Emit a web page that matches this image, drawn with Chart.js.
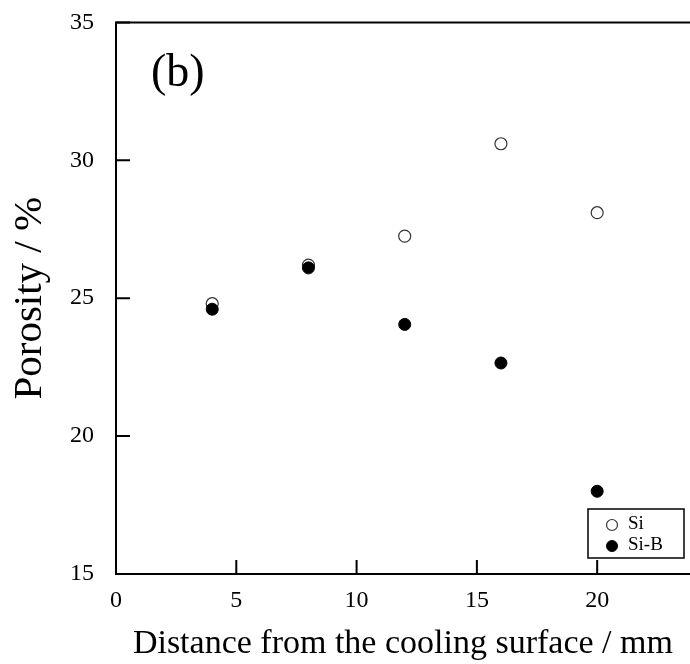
<!DOCTYPE html>
<html>
<head>
<meta charset="utf-8">
<script src="https://cdn.jsdelivr.net/npm/chart.js@4.4.1/dist/chart.umd.min.js"></script>
<style>
  html, body { margin: 0; padding: 0; background: #fff; }
  #wrap { width: 690px; height: 664px; position: relative; overflow: hidden; }
  #inner { position: absolute; left: 0; top: -6px; width: 697px; height: 670px; }
</style>
</head>
<body>
<div id="wrap"><div id="inner"><canvas id="porosityChart"></canvas></div></div>
<script>
const distances = [4, 8, 12, 16, 20];
const siValues = [24.8, 26.2, 27.25, 30.6, 28.1];
const siBValues = [24.6, 26.1, 24.05, 22.65, 18.0];
const seriesNames = ['Si', 'Si-B'];
const xTicks = [0, 5, 10, 15, 20];
const yTicks = [15, 20, 25, 30, 35];

const SERIF = "'Liberation Serif', 'Times New Roman', serif";

const toPoints = vals => distances.map((d, i) => ({ x: d, y: vals[i] }));

// axes drawn by hand: left + bottom + top line, inward ticks
const frame = {
    id: 'frame',
    afterDatasetsDraw(chart) {
        const { ctx, chartArea: a, scales } = chart;
        ctx.save();
        ctx.strokeStyle = '#000';
        ctx.lineWidth = 2;
        ctx.beginPath();
        ctx.moveTo(chart.width, a.top);
        ctx.lineTo(a.left, a.top);
        ctx.lineTo(a.left, a.bottom);
        ctx.lineTo(chart.width, a.bottom);
        ctx.stroke();

        ctx.beginPath();
        xTicks.forEach(v => {
            const px = scales.x.getPixelForValue(v);
            ctx.moveTo(px, a.bottom);
            ctx.lineTo(px, a.bottom - 14);
        });
        yTicks.forEach(v => {
            const py = scales.y.getPixelForValue(v);
            ctx.moveTo(a.left, py);
            ctx.lineTo(a.left + 14, py);
        });
        ctx.stroke();

        // panel label
        ctx.fillStyle = '#000';
        ctx.font = '46px ' + SERIF;
        ctx.textAlign = 'left';
        ctx.textBaseline = 'alphabetic';
        ctx.fillText('(b)', a.left + 35, a.top + 64);

        // legend box
        const bx = 588, by = a.bottom - 65, bw = 96, bh = 49;
        ctx.lineWidth = 1.5;
        ctx.strokeRect(bx, by, bw, bh);
        ctx.font = '19px ' + SERIF;
        ctx.textBaseline = 'middle';
        chart.data.datasets.forEach((ds, i) => {
            const cy = by + 16 + i * 21;
            ctx.beginPath();
            ctx.arc(bx + 24, cy, ds.pointRadius - 0.5, 0, Math.PI * 2);
            ctx.fillStyle = ds.backgroundColor;
            ctx.fill();
            ctx.lineWidth = ds.borderWidth;
            ctx.strokeStyle = ds.borderColor;
            ctx.stroke();
            ctx.fillStyle = '#000';
            ctx.fillText(ds.label, bx + 40, cy - 1);
        });
        ctx.restore();
    }
};

new Chart(document.getElementById('porosityChart'), {
    type: 'scatter',
    data: {
        datasets: [
            {
                label: seriesNames[0],
                data: toPoints(siValues),
                pointRadius: 6,
                backgroundColor: '#fff',
                borderColor: '#333',
                borderWidth: 1.2,
                order: 2
            },
            {
                label: seriesNames[1],
                data: toPoints(siBValues),
                pointRadius: 6,
                backgroundColor: '#000',
                borderColor: '#000',
                borderWidth: 1,
                order: 1
            }
        ]
    },
    options: {
        responsive: true,
        maintainAspectRatio: false,
        animation: false,
        layout: { padding: { top: 11, right: 0, left: 0, bottom: 0 } },
        plugins: { legend: { display: false }, tooltip: { enabled: false } },
        scales: {
            x: {
                type: 'linear',
                min: 0,
                max: 23.85,
                afterFit: s => { s.height = 90; },
                afterBuildTicks: s => { s.ticks = xTicks.map(v => ({ value: v })); },
                grid: { display: false },
                border: { display: false },
                ticks: { color: '#000', font: { family: SERIF, size: 24 }, padding: 4 },
                title: {
                    display: true,
                    text: 'Distance from the cooling surface / mm',
                    color: '#000',
                    font: { family: SERIF, size: 34 },
                    padding: { top: 0, bottom: 0 }
                }
            },
            y: {
                min: 15,
                max: 35,
                afterFit: s => { s.width = 116; },
                afterBuildTicks: s => { s.ticks = yTicks.map(v => ({ value: v })); },
                grid: { display: false },
                border: { display: false },
                ticks: { color: '#000', font: { family: SERIF, size: 24 }, padding: 14 },
                title: {
                    display: true,
                    text: 'Porosity / %',
                    color: '#000',
                    font: { family: SERIF, size: 41 },
                    padding: { top: 6, bottom: 0 }
                }
            }
        }
    },
    plugins: [frame]
});
</script>
</body>
</html>
